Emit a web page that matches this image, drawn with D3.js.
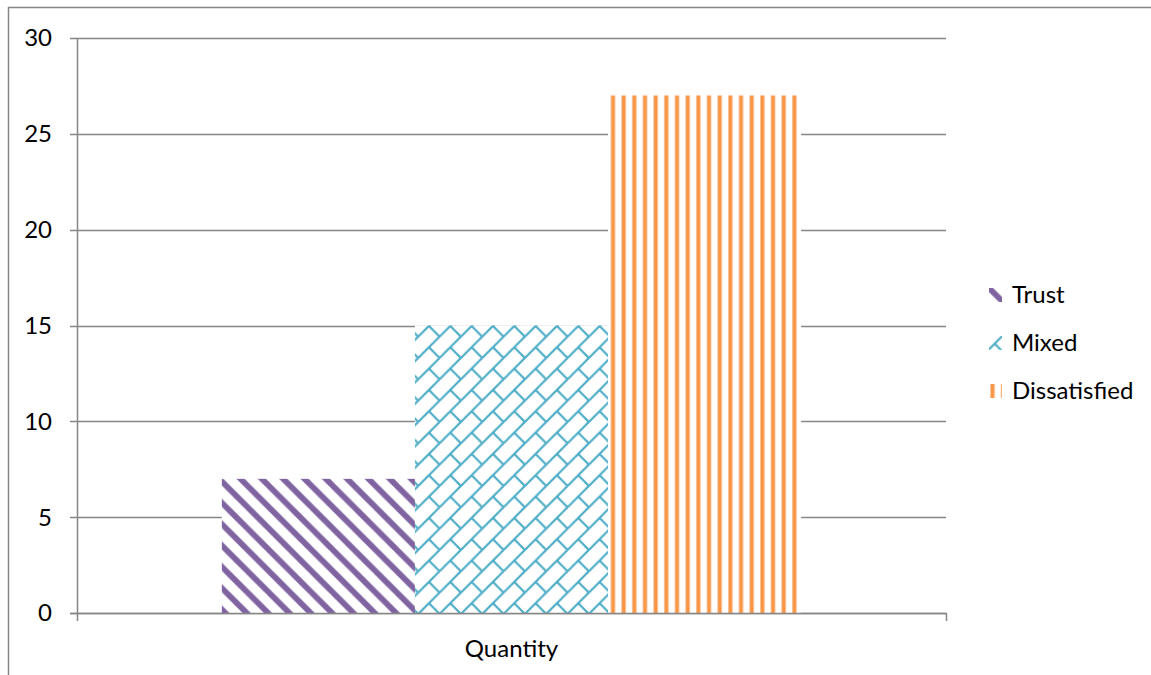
<!DOCTYPE html>
<html><head><meta charset="utf-8">
<script src="https://cdn.jsdelivr.net/npm/d3@7"></script>
<style>
html,body{margin:0;padding:0;background:#fff;}
svg{display:block;}
text{font-family:Lato, "Liberation Sans", sans-serif;fill:#000;}
</style></head>
<body>
<svg id="chart" width="1151" height="675"></svg>
<script>
const categories = ["Quantity"];
const seriesNames = ["Trust", "Mixed", "Dissatisfied"];
const seriesValues = [7, 15, 27];
const yTickValues = [0, 5, 10, 15, 20, 25, 30];
const seriesColors = ["#8064A2", "#4BACC6", "#F79646"];

const svg = d3.select("#chart");
const W = 1151, H = 675;
const plot = {left: 77, right: 946, top: 38, bottom: 613};
const grid = "#868686";
const fontSize = 24;

// frame
svg.append("rect").attr("x", 8.5).attr("y", 7.5).attr("width", W + 20).attr("height", H + 20)
  .attr("fill", "none").attr("stroke", grid).attr("stroke-width", 1.5);

const y = d3.scaleLinear().domain([0, 30]).range([plot.bottom, plot.top]);
const x0 = d3.scaleBand().domain(categories).range([plot.left, plot.right]).padding(0);
const x1 = d3.scaleBand().domain(seriesNames).range([0, x0.bandwidth()]).paddingInner(0).paddingOuter(0.75);

const defs = svg.append("defs");
const T = 21.33;

function makePatterns(prefix, ox, oy) {
  // Trust: wide downward diagonal
  const p1 = defs.append("pattern").attr("id", prefix + "trust").attr("patternUnits", "userSpaceOnUse")
    .attr("x", ox).attr("y", oy).attr("width", T).attr("height", T);
  p1.append("rect").attr("width", T).attr("height", T).attr("fill", "#fff");
  [-1, 0, 1].forEach(k => {
    p1.append("line").attr("x1", -2 + k * T).attr("y1", -2).attr("x2", T + 2 + k * T).attr("y2", T + 2)
      .attr("stroke", seriesColors[0]).attr("stroke-width", 5.8);
  });
  // Mixed: diagonal brick
  const p2 = defs.append("pattern").attr("id", prefix + "mixed").attr("patternUnits", "userSpaceOnUse")
    .attr("x", ox).attr("y", oy).attr("width", T).attr("height", T);
  p2.append("rect").attr("width", T).attr("height", T).attr("fill", "#fff");
  for (let i = -1; i <= 1; i++) for (let j = -1; j <= 1; j++) {
    const dx = i * T, dy = j * T;
    p2.append("line").attr("x1", dx).attr("y1", dy + T).attr("x2", dx + T).attr("y2", dy)
      .attr("stroke", seriesColors[1]).attr("stroke-width", 2.2);
    p2.append("line").attr("x1", dx + T / 2).attr("y1", dy + T / 2).attr("x2", dx + T).attr("y2", dy + T)
      .attr("stroke", seriesColors[1]).attr("stroke-width", 2.2);
  }
  // Dissatisfied: vertical stripes
  const p3 = defs.append("pattern").attr("id", prefix + "diss").attr("patternUnits", "userSpaceOnUse")
    .attr("x", ox).attr("y", oy).attr("width", 10.67).attr("height", 10);
  p3.append("rect").attr("width", 10.67).attr("height", 10).attr("fill", "#fff");
  p3.append("rect").attr("x", 0).attr("width", 5).attr("height", 10).attr("fill", "#FBC59C");
  p3.append("rect").attr("x", 1).attr("width", 3).attr("height", 10).attr("fill", seriesColors[2]);
  return [prefix + "trust", prefix + "mixed", prefix + "diss"];
}

const barXs = seriesNames.map(s => x0(categories[0]) + x1(s));
const pats = makePatterns("bar", plot.left, plot.top);

// gridlines
svg.append("g").selectAll("line").data(yTickValues).join("line")
  .attr("x1", plot.left - 7).attr("x2", plot.right)
  .attr("y1", d => Math.round(y(d)) + 0.5).attr("y2", d => Math.round(y(d)) + 0.5)
  .attr("stroke", grid).attr("stroke-width", 1.5);

// bars
svg.append("g").selectAll("rect").data(seriesValues).join("rect")
  .attr("x", (d, i) => barXs[i])
  .attr("y", d => y(d))
  .attr("width", x1.bandwidth())
  .attr("height", d => y(0) - y(d))
  .attr("fill", (d, i) => `url(#${pats[i]})`);

// axes lines
svg.append("line").attr("x1", plot.left + 0.5).attr("x2", plot.left + 0.5).attr("y1", plot.top).attr("y2", plot.bottom + 8)
  .attr("stroke", grid).attr("stroke-width", 1.5);
svg.append("line").attr("x1", plot.right + 0.5).attr("x2", plot.right + 0.5).attr("y1", plot.bottom).attr("y2", plot.bottom + 8)
  .attr("stroke", grid).attr("stroke-width", 1.5);
svg.append("line").attr("x1", plot.left - 7).attr("x2", plot.right + 1).attr("y1", plot.bottom + 0.5).attr("y2", plot.bottom + 0.5)
  .attr("stroke", grid).attr("stroke-width", 1.5);

// y tick labels
svg.append("g").selectAll("text").data(yTickValues).join("text")
  .attr("x", 52).attr("y", d => y(d)).attr("dy", "0.35em")
  .attr("text-anchor", "end").attr("font-size", fontSize).text(d => d);

// x label
svg.append("text").attr("x", x0(categories[0]) + x0.bandwidth() / 2).attr("y", 657)
  .attr("text-anchor", "middle").attr("font-size", fontSize).text(categories[0]);

// legend
const legY = [295, 343, 391];
const legOff = [[-4, -4], [-5, -3], [1, 0]];
const lg = svg.append("g");
seriesNames.forEach((s, i) => {
  const lp = makePatterns("leg" + i, 989 + legOff[i][0], legY[i] - 7 + legOff[i][1]);
  lg.append("rect").attr("x", 989).attr("y", legY[i] - 7).attr("width", 13).attr("height", 14)
    .attr("fill", `url(#${lp[i]})`);
  lg.append("text").attr("x", 1012).attr("y", legY[i]).attr("dy", "0.35em")
    .attr("font-size", fontSize).text(s);
});
</script>
</body></html>
